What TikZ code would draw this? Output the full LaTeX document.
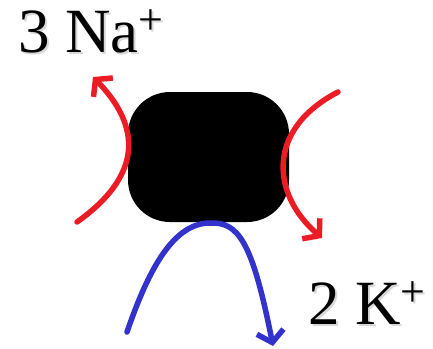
\documentclass[tikz,border=0pt]{standalone}
\usepackage{fontspec}
\setmainfont{Liberation Serif}
\usetikzlibrary{arrows.meta}
\newcommand{\ionplus}{\raisebox{18pt}{\fontsize{44}{44}\selectfont +}}
\tikzset{
  redflow/.style={draw={rgb,255:red,235;green,28;blue,36}, line width=5.5pt, line cap=round,
    -{Straight Barb[length=11pt,width=27pt,line width=5.5pt]}},
  blueflow/.style={draw={rgb,255:red,51;green,51;blue,204}, line width=5.5pt, line cap=round,
    -{Straight Barb[length=11pt,width=27pt,line width=5.5pt]}},
  ionlabel/.style={font=\fontsize{63}{63}\selectfont, inner sep=0pt, anchor=base west},
  ionshadow/.style={ionlabel, text=black!30, opacity=0.5}
}
\begin{document}
\begin{tikzpicture}[x=1pt,y=-1pt]
\useasboundingbox (0,0) rectangle (433,348);
% pump body
\fill[black, rounded corners=42pt] (128,92) rectangle (289,222);
\node (pump) at (208.5,157) {};
% coordinates of the flows
\coordinate (naL0) at (77,222);
\coordinate (naL1) at (93,77);
\coordinate (naR0) at (338,92);
\coordinate (naR1) at (322,238);
\coordinate (k0) at (127,332);
\coordinate (kpeak) at (210,223);
\coordinate (k1) at (273,346);
% red Na flows
\draw[redflow] (naL0) .. controls (150,170) and (135,120) .. (naL1);
\draw[redflow] (naR0) .. controls (265,130) and (272,195) .. (naR1);
% blue K flow
\draw[blueflow] (k0) .. controls (150,265) and (175,223) .. (kpeak)
  .. controls (238,222) and (252,240) .. (k1);
% labels with shadows
\node[ionshadow] (nashadow) at (20,54.5) {3 Na\ionplus};
\node[ionlabel] (na) at (18,52) {3 Na\ionplus};
\node[ionshadow] (kshadow) at (310,326.5) {2 K\ionplus};
\node[ionlabel] (k) at (308,324) {2 K\ionplus};
\end{tikzpicture}
\end{document}
